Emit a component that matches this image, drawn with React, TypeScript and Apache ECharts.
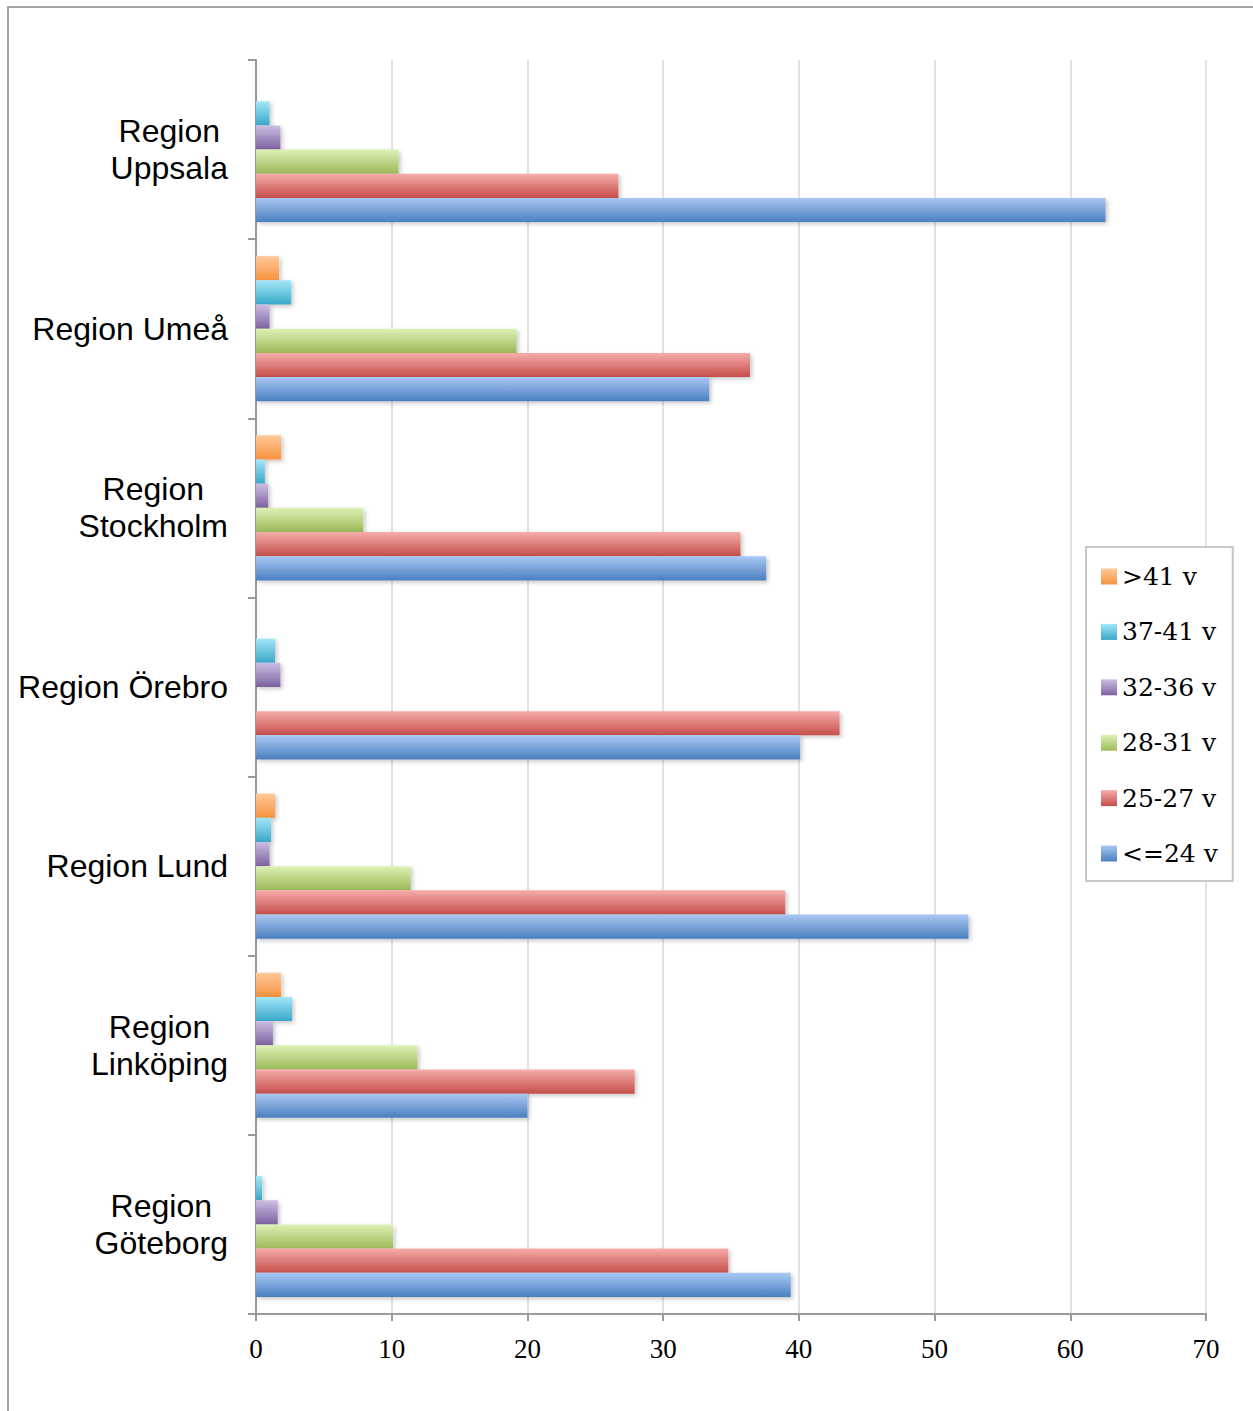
import React, { useEffect, useRef } from "react";
import * as echarts from "echarts";

// Regions, listed top to bottom
const regions = [
  "Region\nUppsala",
  "Region Umeå",
  "Region\nStockholm",
  "Region Örebro",
  "Region Lund",
  "Region\nLinköping",
  "Region\nGöteborg",
];

const xTicks = { min: 0, max: 70, interval: 10 };

// Share per age group (per region, same order as regions)
const gt41 = [0, 1.7, 1.85, 0, 1.4, 1.85, 0];
const w37to41 = [1.0, 2.6, 0.65, 1.4, 1.1, 2.65, 0.45];
const w32to36 = [1.8, 1.0, 0.9, 1.8, 1.0, 1.25, 1.6];
const w28to31 = [10.5, 19.2, 7.9, 0, 11.4, 11.9, 10.1];
const w25to27 = [26.7, 36.4, 35.7, 43.0, 39.0, 27.9, 34.8];
const le24 = [62.6, 33.4, 37.6, 40.1, 52.5, 20.0, 39.4];

const seriesNames = [">41 v", "37-41 v", "32-36 v", "28-31 v", "25-27 v", "<=24 v"];
const seriesData = [gt41, w37to41, w32to36, w28to31, w25to27, le24];
// [light top, dark bottom]
const seriesColors = [
  ["#FFC899", "#F7923E"],
  ["#A4E7F9", "#38A8C8"],
  ["#CCBEE4", "#7D61A0"],
  ["#DDF1B6", "#9BBA58"],
  ["#F6ADAA", "#C54E4A"],
  ["#AAC8F3", "#4A7FBF"],
];

export default function App() {
  const ref = useRef<HTMLDivElement>(null);

  useEffect(() => {
    if (!ref.current) return;
    const chart = echarts.init(ref.current, undefined, { renderer: "svg" });

    const series = seriesNames.map((name, i) => ({
      name,
      type: "bar",
      data: seriesData[i],
      barGap: "0%",
      barCategoryGap: "19%",
      itemStyle: {
        color: new echarts.graphic.LinearGradient(0, 0, 0, 1, [
          { offset: 0, color: seriesColors[i][0] },
          { offset: 1, color: seriesColors[i][1] },
        ]),
        shadowBlur: 4,
        shadowColor: "rgba(0,0,0,0.22)",
        shadowOffsetX: 2,
        shadowOffsetY: 2,
      },
    }));

    chart.setOption({
      animation: false,
      backgroundColor: "#ffffff",
      graphic: [
        {
          type: "rect",
          shape: { x: 8, y: 7, width: 1400, height: 1500 },
          style: { fill: "none", stroke: "#a6a6a6", lineWidth: 2 },
          silent: true,
        },
      ],
      grid: { left: 256, right: 47, top: 60, bottom: 97, containLabel: false },
      legend: {
        orient: "vertical",
        left: 1086,
        top: 547,
        data: seriesNames,
        icon: "rect",
        itemWidth: 16,
        itemHeight: 16,
        itemGap: 30.4,
        itemTextGap: 7,
        itemStyle: { shadowBlur: 0, shadowOffsetX: 0, shadowOffsetY: 0 },
        padding: [17, 15, 15, 15],
        borderColor: "#c8c8c8",
        borderWidth: 2,
        backgroundColor: "#ffffff",
        textStyle: {
          fontFamily: "DejaVu Serif",
          fontSize: 25,
          lineHeight: 20,
          color: "#000",
        },
      },
      xAxis: {
        type: "value",
        min: xTicks.min,
        max: xTicks.max,
        interval: xTicks.interval,
        axisLine: { show: true, lineStyle: { color: "#9a9a9a", width: 2 } },
        axisTick: { show: true, length: 7, lineStyle: { color: "#9a9a9a", width: 2 } },
        splitLine: { show: true, lineStyle: { color: "#d9d9d9", width: 1.5 } },
        axisLabel: {
          fontFamily: "Liberation Serif",
          fontSize: 27,
          color: "#000",
          margin: 21,
        },
      },
      yAxis: {
        type: "category",
        inverse: true,
        data: regions,
        axisLine: { show: true, lineStyle: { color: "#9a9a9a", width: 2 } },
        axisTick: { show: true, length: 8, lineStyle: { color: "#9a9a9a", width: 2 } },
        splitLine: { show: false },
        axisLabel: {
          margin: 28,
          formatter: (v: string) =>
            v.split("\n").map((line) => `{c|${line}}`).join("\n"),
          rich: {
            c: {
              align: "center",
              fontFamily: "Liberation Sans",
              fontSize: 32,
              lineHeight: 37,
              color: "#000",
            },
          },
        },
      },
      series,
    });

    return () => chart.dispose();
  }, []);

  return (
    <div
      ref={ref}
      style={{ position: "absolute", left: 0, top: 0, width: 1253, height: 1411 }}
    />
  );
}
